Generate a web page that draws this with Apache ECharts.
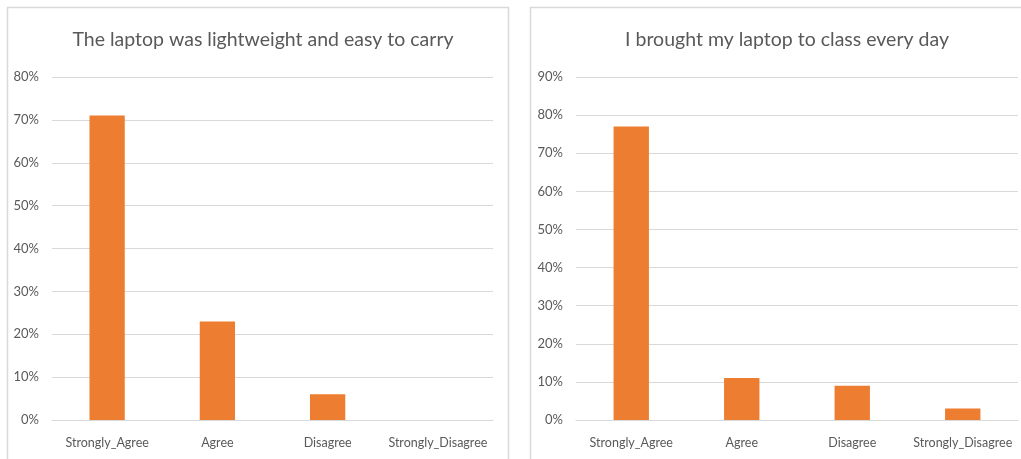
<!DOCTYPE html>
<html>
<head>
<meta charset="utf-8">
<script src="https://cdn.jsdelivr.net/npm/echarts@6/dist/echarts.min.js"></script>
<style>
  html, body { margin: 0; padding: 0; background: #ffffff; }
  #chart { width: 1021px; height: 459px; }
</style>
</head>
<body>
<div id="chart"></div>
<script>
// Survey responses (share of respondents)
const categories = ['Strongly_Agree', 'Agree', 'Disagree', 'Strongly_Disagree'];
const lightweightTitle = 'The laptop was lightweight and easy to carry';
const lightweightValues = [0.71, 0.23, 0.06, 0];
const classTitle = 'I brought my laptop to class every day';
const classValues = [0.77, 0.11, 0.09, 0.03];
const lightweightMax = 0.8;
const classMax = 0.9;

const FONT = 'Lato, "Open Sans", sans-serif';
const TEXT = '#595959';
const GRID = '#d9d9d9';
const BAR = '#ED7D31';

function yAxis(gridIndex, max) {
  return {
    type: 'value', gridIndex, min: 0, max, interval: 0.1,
    axisLine: { show: false }, axisTick: { show: false },
    axisLabel: {
      color: TEXT, fontFamily: FONT, fontSize: 13, margin: 13,
      formatter: v => Math.round(v * 100) + '%'
    },
    splitLine: { lineStyle: { color: GRID, width: 1 } }
  };
}
function xAxis(gridIndex) {
  return {
    type: 'category', gridIndex, data: categories,
    axisLine: { lineStyle: { color: GRID } }, axisTick: { show: false },
    axisLabel: { color: TEXT, fontFamily: FONT, fontSize: 12.5, margin: 16, interval: 0 }
  };
}

const chart = echarts.init(document.getElementById('chart'), null, { renderer: 'canvas' });
chart.setOption({
  animation: false,
  backgroundColor: '#ffffff',
  graphic: [
    { type: 'rect', shape: { x: 7.5, y: 7.5, width: 501, height: 470 },
      style: { fill: 'none', stroke: '#d9d9d9', lineWidth: 1.5 } },
    { type: 'rect', shape: { x: 530.5, y: 7.5, width: 500, height: 470 },
      style: { fill: 'none', stroke: '#d9d9d9', lineWidth: 1.5 } }
  ],
  title: [
    { text: lightweightTitle, left: 258, top: 25, textAlign: 'center',
      textStyle: { color: TEXT, fontFamily: FONT, fontSize: 19.5, fontWeight: 'normal' } },
    { text: classTitle, left: 782, top: 25, textAlign: 'center',
      textStyle: { color: TEXT, fontFamily: FONT, fontSize: 19.5, fontWeight: 'normal' } }
  ],
  grid: [
    { left: 52, right: 528, top: 77, bottom: 39 },
    { left: 576, right: 3, top: 77, bottom: 39 }
  ],
  xAxis: [xAxis(0), xAxis(1)],
  yAxis: [yAxis(0, lightweightMax), yAxis(1, classMax)],
  series: [
    { type: 'bar', xAxisIndex: 0, yAxisIndex: 0, data: lightweightValues,
      barWidth: '32%', itemStyle: { color: BAR } },
    { type: 'bar', xAxisIndex: 1, yAxisIndex: 1, data: classValues,
      barWidth: '32%', itemStyle: { color: BAR } }
  ]
});
</script>
</body>
</html>
